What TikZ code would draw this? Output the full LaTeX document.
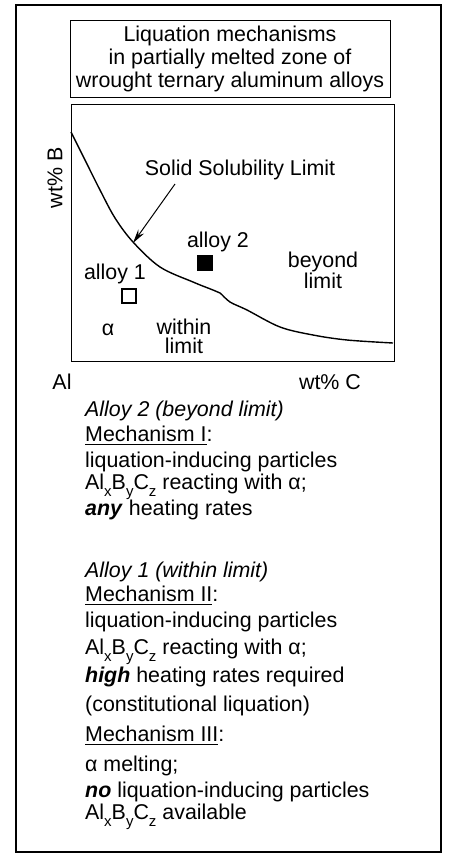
\documentclass[tikz,border=0pt]{standalone}
\usepackage{fontspec}
\setmainfont{Liberation Sans}
\usepackage{amsmath}
\usetikzlibrary{arrows.meta, positioning}
\newcommand{\idx}[1]{\raisebox{-0.34em}{\fontsize{15}{15}\selectfont #1}}
\newcommand{\AlBC}{Al\idx{x}B\idx{y}C\idx{z}}
\tikzset{
  txtline/.style={anchor=west, inner sep=0pt, text height=15pt, text depth=4.5pt},
  lbl/.style={inner sep=0pt, align=center},
  alloybox/.style={draw, line width=1.3pt, minimum size=14pt, inner sep=0pt}
}

\begin{document}
\begin{tikzpicture}[x=1pt, y=-1pt, font=\fontsize{21.4}{23}\selectfont]
  \useasboundingbox (0,0) rectangle (448,854);
  % outer frame
  \draw[line width=1.6pt] (16,5) rectangle (441,852);
  % title box
  \node[draw, line width=1pt, minimum width=320pt, minimum height=77pt, align=center,
        inner sep=0pt] (title) at (230,58.5)
  {Liquation mechanisms\\in partially melted zone of\\wrought ternary aluminum alloys};
  % plot frame
  \node[draw, line width=1.3pt, minimum width=323pt, minimum height=257pt,
        anchor=north west, inner sep=0pt] (plot) at (71,104) {};
  % solid solubility curve
  \draw[line width=1.4pt] plot[smooth, tension=0.55] coordinates {
    (71,132) (85,160) (100,190) (115,218) (133,242) (160,267) (193,282)
    (213,290) (220,293) (230,302) (247,310) (280,327) (313,335) (347,340) (393,343)};
  \coordinate (hit) at (133,243);
  \node[lbl] (ssl) at (240,170) {Solid Solubility Limit};
  \coordinate (ssltail) at (175,184);
  \draw[line width=1pt, -{Stealth[length=14pt, width=7pt]}] (ssltail) -- (hit);
  % alloys
  \node[lbl] (alloytwo) at (218,242) {alloy 2};
  \node[alloybox, fill=black] (sqtwo) at (205,263) {};
  \node[lbl] (alloyone) at (115,274) {alloy 1};
  \node[alloybox] (sqone) at (129,296) {};
  % regions
  \node[lbl, font=\fontsize{21.4}{19}\selectfont] (beyond) at (323,270) {beyond\\limit};
  \node[lbl, font=\fontsize{21.4}{19}\selectfont] (within) at (184,336) {within\\limit};
  \node[lbl] (alpha) at (108,330) {α};
  % axes
  \node[lbl, rotate=90] (wtB) at (55,178) {wt\% B};
  \node[lbl] (Al) at (62,382) {Al};
  \node[lbl] (wtC) at (330,382) {wt\% C};
  % mechanism text
  \node[txtline] (a2) at (85,411) {\textit{Alloy 2 (beyond limit)}};
  \node[txtline] (m1) at (85,436) {\underline{Mechanism I}:};
  \node[txtline] (m1a) at (85,462) {liquation-inducing particles};
  \node[txtline] (m1b) at (85,484) {\AlBC{} reacting with α;};
  \node[txtline] (m1c) at (85,510) {\textbf{\textit{any}} heating rates};
  \node[txtline] (a1) at (85,572) {\textit{Alloy 1 (within limit)}};
  \node[txtline] (m2) at (85,596) {\underline{Mechanism II}:};
  \node[txtline] (m2a) at (85,622) {liquation-inducing particles};
  \node[txtline] (m2b) at (85,649) {\AlBC{} reacting with α;};
  \node[txtline] (m2c) at (85,677) {\textbf{\textit{high}} heating rates required};
  \node[txtline] (m2d) at (85,706) {(constitutional liquation)};
  \node[txtline] (m3) at (85,736) {\underline{Mechanism III}:};
  \node[txtline] (m3a) at (85,766) {α melting;};
  \node[txtline] (m3b) at (85,792) {\textbf{\textit{no}} liquation-inducing particles};
  \node[txtline] (m3c) at (85,814) {\AlBC{} available};
\end{tikzpicture}
\end{document}
